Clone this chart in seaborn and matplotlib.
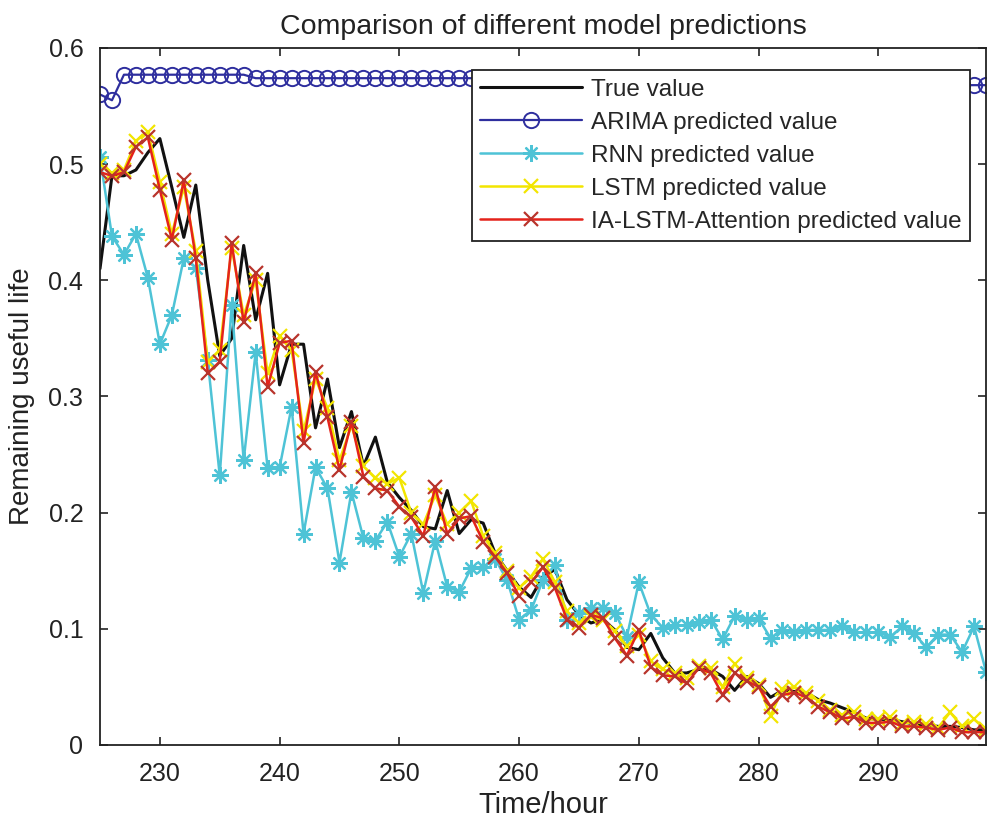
import matplotlib
matplotlib.use("Agg")
import matplotlib.pyplot as plt
import seaborn as sns
import pandas as pd

hours = list(range(225, 300))

true_value = [
    0.410, 0.490, 0.490, 0.495, 0.510, 0.522, 0.480, 0.437, 0.482, 0.400,
    0.335, 0.350, 0.430, 0.366, 0.406, 0.310, 0.345, 0.345, 0.273, 0.315,
    0.256, 0.287, 0.240, 0.265, 0.226, 0.213, 0.202, 0.188, 0.186, 0.219,
    0.182, 0.194, 0.191, 0.165, 0.150, 0.136, 0.127, 0.145, 0.151, 0.125,
    0.112, 0.105, 0.108, 0.099, 0.084, 0.082, 0.096, 0.075, 0.062, 0.062,
    0.065, 0.065, 0.059, 0.047, 0.059, 0.053, 0.041, 0.047, 0.046, 0.045,
    0.039, 0.036, 0.032, 0.028, 0.023, 0.022, 0.022, 0.020, 0.018, 0.017,
    0.016, 0.016, 0.015, 0.013, 0.013,
]

arima_pred = [
    0.560, 0.555, 0.577, 0.577, 0.577, 0.577, 0.577, 0.577, 0.577, 0.577,
    0.577, 0.577, 0.577, 0.574, 0.574, 0.574, 0.574, 0.574, 0.574, 0.574,
    0.574, 0.574, 0.574, 0.574, 0.574, 0.574, 0.574, 0.574, 0.574, 0.574,
    0.574, 0.574, 0.574, 0.574, 0.574, 0.574, 0.573, 0.573, 0.573, 0.573,
    0.573, 0.573, 0.573, 0.573, 0.573, 0.573, 0.573, 0.573, 0.573, 0.573,
    0.573, 0.573, 0.573, 0.573, 0.573, 0.573, 0.573, 0.573, 0.573, 0.573,
    0.573, 0.571, 0.571, 0.571, 0.571, 0.571, 0.571, 0.571, 0.571, 0.571,
    0.571, 0.571, 0.568, 0.568, 0.568,
]

rnn_pred = [
    0.506, 0.438, 0.422, 0.440, 0.402, 0.345, 0.370, 0.419, 0.411, 0.331,
    0.232, 0.379, 0.245, 0.338, 0.238, 0.239, 0.291, 0.182, 0.239, 0.221,
    0.157, 0.218, 0.178, 0.176, 0.192, 0.162, 0.182, 0.131, 0.176, 0.136,
    0.132, 0.152, 0.153, 0.160, 0.142, 0.108, 0.116, 0.142, 0.155, 0.108,
    0.114, 0.118, 0.118, 0.114, 0.093, 0.140, 0.112, 0.101, 0.103, 0.103,
    0.106, 0.108, 0.091, 0.111, 0.108, 0.109, 0.092, 0.099, 0.097, 0.099,
    0.099, 0.099, 0.102, 0.097, 0.097, 0.097, 0.093, 0.102, 0.096, 0.084,
    0.095, 0.095, 0.080, 0.102, 0.063,
]

lstm_pred = [
    0.500, 0.492, 0.495, 0.520, 0.528, 0.485, 0.440, 0.480, 0.425, 0.330,
    0.340, 0.428, 0.370, 0.400, 0.320, 0.352, 0.340, 0.270, 0.315, 0.290,
    0.245, 0.275, 0.240, 0.230, 0.225, 0.230, 0.200, 0.190, 0.215, 0.190,
    0.200, 0.210, 0.180, 0.165, 0.150, 0.135, 0.145, 0.160, 0.140, 0.115,
    0.105, 0.110, 0.108, 0.098, 0.085, 0.095, 0.072, 0.065, 0.062, 0.058,
    0.068, 0.066, 0.050, 0.070, 0.058, 0.052, 0.025, 0.048, 0.050, 0.045,
    0.038, 0.030, 0.026, 0.028, 0.022, 0.022, 0.024, 0.018, 0.020, 0.018,
    0.015, 0.028, 0.016, 0.022, 0.014,
]

ia_pred = [
    0.493, 0.490, 0.493, 0.515, 0.523, 0.478, 0.435, 0.486, 0.419, 0.320,
    0.330, 0.432, 0.364, 0.406, 0.308, 0.346, 0.348, 0.260, 0.321, 0.282,
    0.237, 0.278, 0.231, 0.221, 0.219, 0.205, 0.196, 0.180, 0.222, 0.182,
    0.195, 0.197, 0.175, 0.162, 0.148, 0.128, 0.140, 0.153, 0.135, 0.108,
    0.101, 0.112, 0.109, 0.092, 0.077, 0.099, 0.067, 0.060, 0.059, 0.053,
    0.066, 0.062, 0.043, 0.062, 0.055, 0.050, 0.033, 0.043, 0.045, 0.041,
    0.033, 0.028, 0.023, 0.024, 0.019, 0.019, 0.020, 0.016, 0.016, 0.015,
    0.013, 0.015, 0.011, 0.011, 0.011,
]

labels = ["True value", "ARIMA predicted value", "RNN predicted value",
          "LSTM predicted value", "IA-LSTM-Attention predicted value"]
x_ticks = [230, 240, 250, 260, 270, 280, 290]
y_ticks = [0, 0.1, 0.2, 0.3, 0.4, 0.5, 0.6]
y_tick_labels = ["0", "0.1", "0.2", "0.3", "0.4", "0.5", "0.6"]

sns.set_style("ticks")
plt.rcParams["font.family"] = ["Liberation Sans", "DejaVu Sans"]

fig = plt.figure(figsize=(9.92, 8.36), dpi=100)
ax = fig.add_axes([0.1008, 0.1089, 0.8932, 0.8337])

styles = [
    dict(color="#111111", marker=None, lw=2.2),
    dict(color="#2E2E9E", marker="o", lw=1.6, ms=11, mfc="none", mec="#2E2E9E", mew=1.4),
    dict(color="#4EC3D6", marker=(8, 2, 0), lw=1.8, ms=12, mec="#4EC3D6", mew=1.6),
    dict(color="#F2E500", marker="x", lw=1.8, ms=10, mec="#F2E500", mew=1.6),
    dict(color="#E4231B", marker="x", lw=1.8, ms=10, mec="#B8342C", mew=1.6),
]
series = [true_value, arima_pred, rnn_pred, lstm_pred, ia_pred]

for vals, lab, st in zip(series, labels, styles):
    df = pd.DataFrame({"hour": hours, "value": vals})
    kw = dict(color=st["color"], linewidth=st["lw"], label=lab)
    if st["marker"] is not None:
        kw.update(marker=st["marker"], markersize=st["ms"],
                  markeredgecolor=st["mec"], markeredgewidth=st["mew"])
        if "mfc" in st:
            kw["markerfacecolor"] = st["mfc"]
    sns.lineplot(data=df, x="hour", y="value", ax=ax, **kw)

ax.set_xlim(225, 299)
ax.set_ylim(0, 0.6)
ax.set_xticks(x_ticks)
ax.set_xticklabels([str(t) for t in x_ticks])
ax.set_yticks(y_ticks)
ax.set_yticklabels(y_tick_labels)
ax.tick_params(direction="in", top=True, right=True, length=6, width=1.2,
               labelsize=18, colors="#222222", pad=12)
for sp in ax.spines.values():
    sp.set_visible(True)
    sp.set_linewidth(1.3)
    sp.set_color("#222222")

ax.set_xlabel("Time/hour", fontsize=21, color="#222222", labelpad=4)
ax.set_ylabel("Remaining useful life", fontsize=20, color="#222222", labelpad=10)
ax.set_title("Comparison of different model predictions", fontsize=20.5,
             color="#222222", pad=10)

leg = ax.legend(loc="upper right", bbox_to_anchor=(0.982, 0.968), fontsize=17.5,
                frameon=True, fancybox=False, edgecolor="#222222",
                handlelength=4.2, borderpad=0.35, labelspacing=0.45,
                handletextpad=0.35, borderaxespad=0.0)
leg.get_frame().set_linewidth(1.3)
leg.get_frame().set_alpha(1.0)

fig.savefig("out.png", dpi=100)
